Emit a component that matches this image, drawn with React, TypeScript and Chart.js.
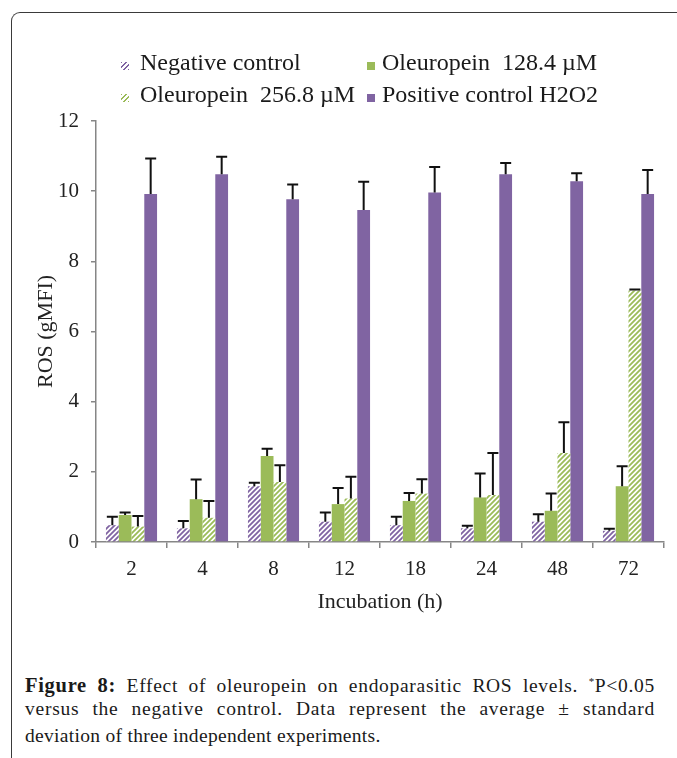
import React, { useEffect, useRef } from "react";
import { Chart, registerables } from "chart.js";

Chart.register(...registerables);

const categories = ["2", "4", "8", "12", "18", "24", "48", "72"];
const negative = [0.48, 0.39, 1.59, 0.58, 0.48, 0.39, 0.58, 0.32];
const negativeErr = [0.24, 0.21, 0.1, 0.26, 0.24, 0.07, 0.21, 0.06];
const ole128 = [0.77, 1.22, 2.45, 1.08, 1.17, 1.27, 0.89, 1.59];
const ole128Err = [0.07, 0.56, 0.21, 0.46, 0.23, 0.68, 0.49, 0.57];
const ole256 = [0.44, 0.69, 1.71, 1.24, 1.38, 1.34, 2.54, 7.17];
const ole256Err = [0.3, 0.48, 0.48, 0.62, 0.41, 1.2, 0.87, 0.03];
const positive = [9.92, 10.48, 9.77, 9.46, 9.96, 10.48, 10.28, 9.92];
const positiveErr = [1.01, 0.5, 0.42, 0.81, 0.73, 0.32, 0.23, 0.68];
const seriesNames = ["Negative control", "Oleuropein  128.4 \u00b5M", "Oleuropein  256.8 \u00b5M", "Positive control H2O2"];
const yTicks = [0, 2, 4, 6, 8, 10, 12];

const PURPLE = "#8064A2";
const GREEN = "#9BBB59";
const AXIS = "#868686";
const TEXT = "#222222";
const SERIF = "'Liberation Serif', 'Times New Roman', serif";

function makePattern(color: string) {
  const s = 5;
  const c = document.createElement("canvas");
  c.width = s;
  c.height = s;
  const g = c.getContext("2d")!;
  g.fillStyle = "#ffffff";
  g.fillRect(0, 0, s, s);
  g.strokeStyle = color;
  g.lineWidth = 1.8;
  g.beginPath();
  g.moveTo(-1, s + 1);
  g.lineTo(s + 1, -1);
  g.moveTo(-s / 2 - 1, s / 2 + 1);
  g.lineTo(s / 2 + 1, -s / 2 - 1);
  g.moveTo(s / 2 - 1, s * 1.5 + 1);
  g.lineTo(s * 1.5 + 1, s / 2 - 1);
  g.stroke();
  return g.createPattern(c, "repeat")!;
}

const errorLists = [negativeErr, ole128Err, ole256Err, positiveErr];

const errorBarsPlugin = {
  id: "errorBars",
  afterDatasetsDraw(chart: any) {
    const { ctx } = chart;
    const yScale = chart.scales.y;
    chart.data.datasets.forEach((ds: any, i: number) => {
      const meta = chart.getDatasetMeta(i);
      meta.data.forEach((bar: any, j: number) => {
        const v = ds.data[j];
        const e = errorLists[i][j];
        const x = bar.x;
        const y0 = yScale.getPixelForValue(v);
        const y1 = yScale.getPixelForValue(v + e);
        ctx.save();
        ctx.strokeStyle = "#111111";
        ctx.lineWidth = 2;
        ctx.beginPath();
        ctx.moveTo(x, y0);
        ctx.lineTo(x, y1);
        ctx.moveTo(x - 5.5, y1);
        ctx.lineTo(x + 5.5, y1);
        ctx.stroke();
        ctx.restore();
      });
    });
  },
};

function hatchCss(color: string) {
  return `repeating-linear-gradient(135deg, ${color} 0px, ${color} 1.3px, #ffffff 1.3px, #ffffff 3.5px)`;
}

export default function App() {
  const ref = useRef<HTMLCanvasElement | null>(null);

  useEffect(() => {
    if (!ref.current) return;
    const purpleHatch = makePattern(PURPLE);
    const greenHatch = makePattern(GREEN);
    const tickFont = { family: SERIF, size: 21 };
    const chart = new Chart(ref.current, {
      type: "bar",
      data: {
        labels: categories,
        datasets: [
          { label: seriesNames[0], data: negative, backgroundColor: purpleHatch as any, borderWidth: 0 },
          { label: seriesNames[1], data: ole128, backgroundColor: GREEN, borderWidth: 0 },
          { label: seriesNames[2], data: ole256, backgroundColor: greenHatch as any, borderWidth: 0 },
          { label: seriesNames[3], data: positive, backgroundColor: PURPLE, borderWidth: 0 },
        ],
      },
      options: {
        responsive: false,
        animation: false,
        devicePixelRatio: 1,
        datasets: { bar: { categoryPercentage: 0.72, barPercentage: 1 } },
        layout: { padding: { left: 0, right: 13, top: 121, bottom: 0 } },
        plugins: { legend: { display: false }, tooltip: { enabled: false } },
        scales: {
          x: {
            grid: { display: true, drawOnChartArea: false, drawTicks: true, tickLength: 6, color: AXIS, lineWidth: 1.5, offset: true },
            border: { display: true, color: AXIS, width: 1.5 },
            ticks: { font: tickFont, color: TEXT, padding: 9, maxRotation: 0 },
            title: { display: true, text: "Incubation (h)", font: { family: SERIF, size: 22 }, color: TEXT, padding: { top: 0, bottom: 0 } },
            afterFit: (s: any) => {
              s.height = 73;
            },
          },
          y: {
            min: 0,
            max: 12,
            afterBuildTicks: (s: any) => {
              s.ticks = yTicks.map((v) => ({ value: v }));
            },
            grid: { display: true, drawOnChartArea: false, drawTicks: true, tickLength: 5, color: AXIS, lineWidth: 1.5 },
            border: { display: true, color: AXIS, width: 1.5 },
            ticks: { font: tickFont, color: TEXT, padding: 12 },
            title: { display: true, text: "ROS (gMFI)", font: { family: SERIF, size: 22 }, color: TEXT, padding: { top: 33, bottom: 0 } },
            afterFit: (s: any) => {
              s.width = 96;
            },
          },
        },
      },
      plugins: [errorBarsPlugin],
    });
    return () => chart.destroy();
  }, []);

  const legendItems = [
    { name: seriesNames[0], bg: hatchCss(PURPLE), left: 121, textLeft: 140, top: 50 },
    { name: seriesNames[1], bg: GREEN, left: 367, textLeft: 382, top: 50 },
    { name: seriesNames[2], bg: hatchCss(GREEN), left: 121, textLeft: 140, top: 81.5 },
    { name: seriesNames[3], bg: PURPLE, left: 367, textLeft: 382, top: 81.5 },
  ];

  const captionStyle: React.CSSProperties = {
    position: "absolute",
    left: 25,
    width: 630,
    fontFamily: SERIF,
    fontSize: 19.5,
    lineHeight: "27px",
    color: "#1a1a1a",
    whiteSpace: "nowrap",
  };

  return (
    <div style={{ position: "absolute", left: 0, top: 0, width: 677, height: 758, overflow: "hidden", background: "#fff" }}>
      <div
        style={{
          position: "absolute",
          left: 11,
          top: 12,
          width: 720,
          height: 800,
          borderTop: "1.5px solid #3a3a3a",
          borderLeft: "1.5px solid #3a3a3a",
          borderTopLeftRadius: 9,
        }}
      />
      <canvas ref={ref} width={677} height={615} style={{ position: "absolute", left: 0, top: 0, width: 677, height: 615 }} />
      {legendItems.map((it, k) => (
        <React.Fragment key={k}>
          <div style={{ position: "absolute", left: it.left, top: it.top + 12, width: 8, height: 8, background: it.bg }} />
          <div
            style={{
              position: "absolute",
              left: it.textLeft,
              top: it.top,
              fontFamily: SERIF,
              fontSize: 24,
              lineHeight: "24px",
              color: "#1a1a1a",
              whiteSpace: "pre",
            }}
          >
            {it.name}
          </div>
        </React.Fragment>
      ))}
      <div style={{ ...captionStyle, top: 668, letterSpacing: 0.7, textAlign: "justify", textAlignLast: "justify", whiteSpace: "normal" }}>
        <b style={{ fontSize: 20.5 }}>Figure 8:</b> Effect of oleuropein on endoparasitic ROS levels. <sup style={{ fontSize: 11, verticalAlign: "7px" }}>*</sup>P&lt;0.05
      </div>
      <div style={{ ...captionStyle, top: 695, letterSpacing: 0.75, textAlign: "justify", textAlignLast: "justify", whiteSpace: "normal" }}>
        versus the negative control. Data represent the average ± standard
      </div>
      <div style={{ ...captionStyle, top: 722, letterSpacing: 0.3 }}>deviation of three independent experiments.</div>
    </div>
  );
}
